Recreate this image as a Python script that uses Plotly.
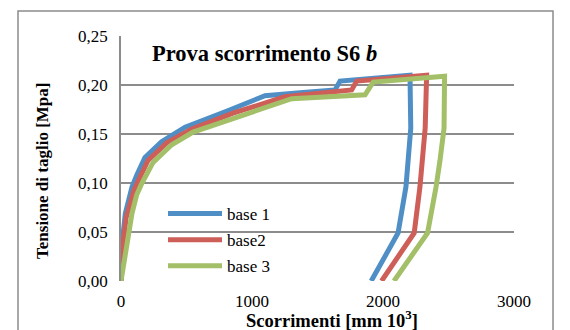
import plotly.graph_objects as go

# ---- data ----
base1_x = [0, 10, 33, 84, 120, 183, 310, 489, 800, 1099, 1366, 1634, 1672, 2206, 2212, 2175, 2115, 1910]
base1_y = [0, 0.040, 0.069, 0.096, 0.108, 0.126, 0.142, 0.157, 0.173, 0.189, 0.192, 0.195, 0.204, 0.210, 0.156, 0.096, 0.049, 0.0]

base2_x = [0, 8, 40, 100, 145, 206, 349, 540, 850, 1250, 1761, 1799, 2333, 2322, 2282, 2238, 1989]
base2_y = [0, 0.030, 0.065, 0.093, 0.106, 0.123, 0.141, 0.155, 0.171, 0.188, 0.195, 0.204, 0.210, 0.156, 0.096, 0.049, 0.0]

base3_x = [0, 33, 84, 120, 160, 245, 387, 550, 900, 1303, 1863, 1925, 2470, 2466, 2435, 2405, 2340, 2084]
base3_y = [0, 0.029, 0.069, 0.088, 0.100, 0.121, 0.139, 0.152, 0.168, 0.186, 0.190, 0.203, 0.209, 0.156, 0.123, 0.096, 0.049, 0.0]

series_names = ["base 1", "base2", "base 3"]
series_colors = ["#4F8FC6", "#CD5F58", "#A3BF67"]

x_ticks = [0, 1000, 2000, 3000]
x_tick_text = ["0", "1000", "2000", "3000"]
y_ticks = [0.0, 0.05, 0.10, 0.15, 0.20, 0.25]
y_tick_text = ["0,00", "0,05", "0,10", "0,15", "0,20", "0,25"]

title_text = "<b>Prova scorrimento S6 <i>b</i></b>"
x_title = "<b>Scorrimenti [mm 10<sup>3</sup>]</b>"
y_title = "<b>Tensione di taglio [Mpa]</b>"

FONT = "Liberation Serif"

fig = go.Figure()
for i, (xs, ys) in enumerate([(base1_x, base1_y), (base2_x, base2_y), (base3_x, base3_y)]):
    fig.add_trace(go.Scatter(
        x=xs, y=ys, mode="lines", name=series_names[i],
        legendgroup=series_names[i],
        line=dict(color=series_colors[i], width=5, shape="linear"),
    ))

# page body has an 8px default margin, so the figure is drawn 8px in from the window corner
OFF = 8
W, H = 570 - OFF, 330 - OFF
# plot area in window pixels: x 121..514, y 36..281
PX0, PX1, PY0, PY1 = 121, 514, 36, 281
L, R, T, B = PX0 - OFF, 570 - PX1, PY0 - OFF, 330 - PY1
PW, PH = PX1 - PX0, PY1 - PY0

def px(xp):
    return (xp - PX0) / PW

def py(yp):
    return (PY1 - yp) / PH

fig.update_layout(
    width=W, height=H,
    margin=dict(l=L, r=R, t=T, b=B, autoexpand=False),
    paper_bgcolor="white", plot_bgcolor="white",
    font=dict(family=FONT, size=17, color="black"),
    showlegend=True,
    legend=dict(
        x=px(163), y=py(196), xanchor="left", yanchor="top",
        bgcolor="rgba(0,0,0,0)", font=dict(family=FONT, size=17),
        itemwidth=54, tracegroupgap=1,
    ),
    xaxis=dict(
        range=[0, 3000], tickvals=x_ticks, ticktext=x_tick_text,
        showgrid=False, zeroline=False, showline=False, ticks="",
        ticklabelstandoff=8,
        tickfont=dict(family=FONT, size=17),
        fixedrange=True,
    ),
    yaxis=dict(
        range=[0, 0.25], tickvals=y_ticks, ticktext=y_tick_text,
        showgrid=True, gridcolor="#8C8C8C", gridwidth=1.5,
        zeroline=False, showline=True, linecolor="#8C8C8C", linewidth=1.5,
        ticks="", ticklabelstandoff=8,
        tickfont=dict(family=FONT, size=17),
        fixedrange=True,
    ),
    shapes=[
        dict(type="rect", xref="paper", yref="paper",
             x0=px(18), x1=px(553), y0=py(340), y1=py(11),
             line=dict(color="#8C8C8C", width=1.5), fillcolor="rgba(0,0,0,0)",
             layer="below"),
    ],
    annotations=[
        dict(text=title_text, xref="paper", yref="paper", x=px(150), y=py(53),
             xanchor="left", yanchor="middle", showarrow=False,
             font=dict(family=FONT, size=22.5, color="black")),
        dict(text=x_title, xref="paper", yref="paper", x=px(332), y=py(319),
             xanchor="center", yanchor="middle", showarrow=False,
             font=dict(family=FONT, size=18.5, color="black")),
        dict(text=y_title, xref="paper", yref="paper", x=px(42), y=py(171),
             xanchor="center", yanchor="middle", showarrow=False, textangle=-90,
             font=dict(family=FONT, size=17, color="black")),
    ],
)

fig.write_html("out.html")
